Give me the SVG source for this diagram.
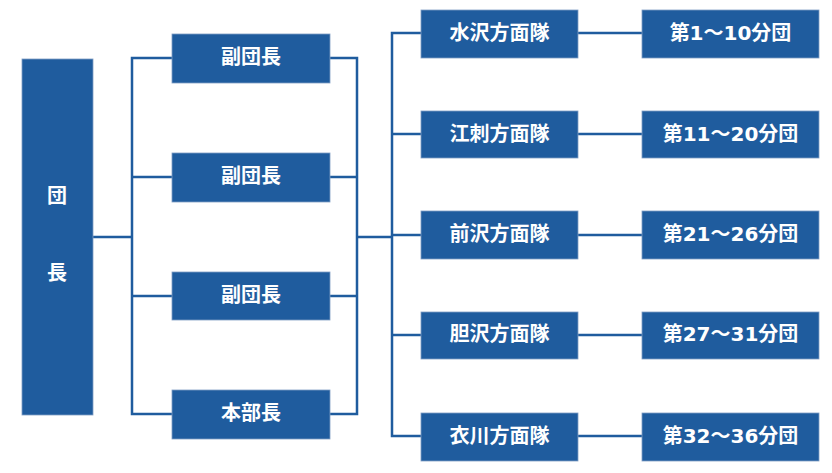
<svg xmlns="http://www.w3.org/2000/svg" width="832" height="473" viewBox="0 0 832 473">
<style>
.box{fill:#1F5C9E;stroke:#7F9DC4;stroke-width:0.8}
.t{fill:#fff;font-family:"DejaVu Sans","Noto Sans CJK JP",sans-serif;font-weight:bold;font-size:20px;text-anchor:middle;dominant-baseline:central}
.ln{fill:none;stroke:#1F5C9E;stroke-width:2.5}
</style>
<rect width="832" height="473" fill="#fff"/>
<g id="connectors">
<line class="ln" x1="93" y1="237" x2="132" y2="237"/>
<polyline class="ln" points="172,58 132,58 132,414 172,414"/>
<line class="ln" x1="132" y1="177" x2="172" y2="177"/>
<line class="ln" x1="132" y1="296" x2="172" y2="296"/>
<polyline class="ln" points="330,58 357,58 357,414 330,414"/>
<line class="ln" x1="330" y1="177" x2="357" y2="177"/>
<line class="ln" x1="330" y1="296" x2="357" y2="296"/>
<line class="ln" x1="357" y1="237" x2="392" y2="237"/>
<polyline class="ln" points="421,33 392,33 392,436 421,436"/>
<line class="ln" x1="392" y1="134" x2="421" y2="134"/>
<line class="ln" x1="392" y1="235" x2="421" y2="235"/>
<line class="ln" x1="392" y1="335" x2="421" y2="335"/>
<line class="ln" x1="578" y1="33" x2="642" y2="33"/>
<line class="ln" x1="578" y1="134" x2="642" y2="134"/>
<line class="ln" x1="578" y1="235" x2="642" y2="235"/>
<line class="ln" x1="578" y1="335" x2="642" y2="335"/>
<line class="ln" x1="578" y1="436" x2="642" y2="436"/>
</g>
<g id="dancho"><rect class="box" x="22" y="59" width="71" height="356"/><text class="t" x="57" y="196">団</text><text class="t" x="57" y="273">長</text></g>
<g id="fuku1"><rect class="box" x="172" y="34" width="158" height="49"/><text class="t" x="251" y="57">副団長</text></g>
<g id="fuku2"><rect class="box" x="172" y="153" width="158" height="49"/><text class="t" x="251" y="176">副団長</text></g>
<g id="fuku3"><rect class="box" x="172" y="272" width="158" height="48"/><text class="t" x="251" y="295">副団長</text></g>
<g id="honbu"><rect class="box" x="172" y="390" width="158" height="49"/><text class="t" x="251" y="413">本部長</text></g>
<g id="mizusawa"><rect class="box" x="421" y="10" width="157" height="48"/><text class="t" x="499.5" y="33">水沢方面隊</text></g>
<g id="esashi"><rect class="box" x="421" y="111" width="157" height="47"/><text class="t" x="499.5" y="134">江刺方面隊</text></g>
<g id="maesawa"><rect class="box" x="421" y="211" width="157" height="48"/><text class="t" x="499.5" y="234">前沢方面隊</text></g>
<g id="isawa"><rect class="box" x="421" y="312" width="157" height="47"/><text class="t" x="499.5" y="334">胆沢方面隊</text></g>
<g id="koromogawa"><rect class="box" x="421" y="413" width="157" height="48"/><text class="t" x="499.5" y="436">衣川方面隊</text></g>
<g id="bun1"><rect class="box" x="642" y="10" width="177" height="48"/><text class="t" x="730.5" y="33">第1～10分団</text></g>
<g id="bun2"><rect class="box" x="642" y="111" width="177" height="47"/><text class="t" x="730.5" y="134">第11～20分団</text></g>
<g id="bun3"><rect class="box" x="642" y="211" width="177" height="48"/><text class="t" x="730.5" y="234">第21～26分団</text></g>
<g id="bun4"><rect class="box" x="642" y="312" width="177" height="47"/><text class="t" x="730.5" y="334">第27～31分団</text></g>
<g id="bun5"><rect class="box" x="642" y="413" width="177" height="48"/><text class="t" x="730.5" y="436">第32～36分団</text></g>
</svg>
